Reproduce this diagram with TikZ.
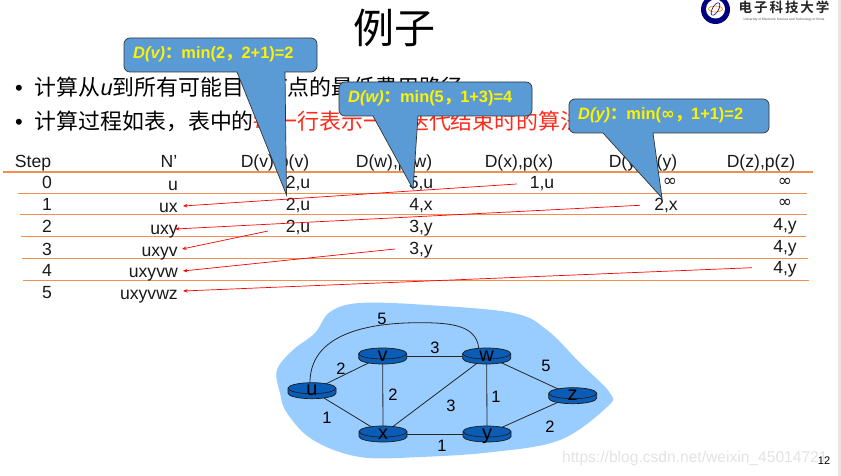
\documentclass[tikz,border=0pt]{standalone}
\usepackage{fontspec}
\setmainfont{Liberation Sans}
\newfontfamily\cjk{Noto Sans CJK SC}
\newfontfamily\cjkb{Noto Sans CJK SC Bold}
\newfontfamily\djv{DejaVu Sans}
\usetikzlibrary{shapes.geometric,arrows.meta}
\definecolor{rule}{HTML}{ED7D31}
\definecolor{boxblue}{HTML}{5B9BD5}
\definecolor{cloudblue}{HTML}{99CCFF}
\definecolor{routerblue}{HTML}{0A5CB4}
\definecolor{hot}{HTML}{FF2A1A}
\tikzset{
  cell/.style={font=\fontsize{17.6}{18}\selectfont,inner sep=0pt,text=black!90,text height=13pt,text depth=3pt,yshift=-1pt},
  infcell/.style={font=\djv\fontsize{17}{17}\selectfont,inner sep=0pt,text=black!90},
  rowrule/.style={draw=rule,line width=1pt,opacity=.85},
  move/.style={draw=red,line width=.7pt,-{Stealth[length=4.5pt,width=3.5pt]}},
  callout/.style={fill=boxblue,draw=black!80,line width=.7pt},
  calltext/.style={font=\bfseries\fontsize{16.4}{16}\selectfont,text=yellow,inner sep=0pt,anchor=west},
  router/.style={ellipse,minimum width=48pt,minimum height=16pt,inner sep=0pt},
  routerlabel/.style={font=\fontsize{20}{20}\selectfont,inner sep=0pt,text height=14pt,text depth=4pt},
  link/.style={draw=black!85,line width=.8pt},
  weight/.style={font=\fontsize{16.5}{16}\selectfont,inner sep=0pt},
  bullet/.style={font=\fontsize{21.9}{22}\selectfont,inner sep=0pt,anchor=west}
}
\newcommand{\callshape}[8]{% x1 y1 x2 y2 baseL baseR tipx tipy
  \path[callout] (#1+6,#2) [rounded corners=6pt] -- (#3,#2) -- (#3,#4) [sharp corners] -- (#6,#4) -- (#7,#8) -- (#5,#4) [rounded corners=6pt] -- (#1,#4) -- (#1,#2) [sharp corners] -- cycle;}
\newcommand{\routerbody}[2]{% x y
  \path[fill=routerblue,draw=black!90,line width=.7pt] (#1-24,#2-2.5) -- (#1-24,#2+2.5) arc[start angle=180,end angle=360,x radius=24pt,y radius=5.5pt] -- (#1+24,#2-2.5) arc[start angle=0,end angle=180,x radius=24pt,y radius=5.5pt] -- cycle;
  \path[draw=black!90,line width=.6pt] (#1-24,#2-2.5) arc[start angle=180,end angle=360,x radius=24pt,y radius=5.5pt];}
\begin{document}
\begin{tikzpicture}[x=1pt,y=-1pt]
\useasboundingbox (0,0) rectangle (841,476);
\fill[white] (0,0) rectangle (841,476);
\fill[black!10] (838,0) rectangle (841,476);

% title
\node[inner sep=0pt,font=\cjk\fontsize{41}{41}\selectfont] (title) at (394,28) {例子};

% logo
\fill[blue!50!black] (715.5,9.5) circle[radius=14.5];
\fill[white] (715.5,9) circle[radius=9.5];
\draw[orange,line width=.6pt] (715.5,9) ellipse[x radius=7,y radius=3];
\draw[blue!60!black,line width=.6pt,rotate around={60:(715.5,9)}] (715.5,9) ellipse[x radius=7,y radius=3];
\node[inner sep=0pt,font=\cjkb\fontsize{13.5}{14}\selectfont,text=black!85] (logoname) at (784,7.5) {电\hspace{2pt}子\hspace{2pt}科\hspace{2pt}技\hspace{2pt}大\hspace{2pt}学};
\node[inner sep=0pt,font=\fontsize{3.2}{4}\selectfont,text=black!70] (logosub) at (784,19.5) {University of Electronic Science and Technology of China};

% bullets
\node[bullet] (b1) at (15,87) {•\hspace{12pt}{\cjk 计算从}\textit{u}{\cjk 到所有可能目的节点的最低费用路径}};
\node[bullet] (b2) at (15,121) {•\hspace{12pt}{\cjk 计算过程如表，表中的}{\cjk\color{hot}每一行表示一次迭代结束时的算法状态}};

% table rules
\draw[rowrule,line width=1.5pt] (3,172) -- (813,172);
\draw[rowrule] (18,193) -- (807,193);
\draw[rowrule] (20,214.5) -- (807,214.5);
\draw[rowrule] (21,236.5) -- (806,236.5);
\draw[rowrule] (22,258.5) -- (808,258.5);
\draw[rowrule] (23,280.7) -- (809,280.7);

% table header
\node[cell] (hs) at (33,161.5) {Step};
\node[cell] (hn) at (169,161.5) {N'};
\node[cell] (hv) at (275,161.5) {D(v),p(v)};
\node[cell] (hw) at (394,161.5) {D(w),p(w)};
\node[cell] (hx) at (519,161.5) {D(x),p(x)};
\node[cell] (hy) at (643,161.5) {D(y),p(y)};
\node[cell] (hz) at (761,161.5) {D(z),p(z)};

% step column
\node[cell] (s0) at (47,183) {0};
\node[cell] (s1) at (47,205) {1};
\node[cell] (s2) at (47,226) {2};
\node[cell] (s3) at (47,249) {3};
\node[cell] (s4) at (47,270) {4};
\node[cell] (s5) at (47,292) {5};

% N' column
\node[cell,anchor=east] (n0) at (178,184) {u};
\node[cell,anchor=east] (n1) at (178,206) {ux};
\node[cell,anchor=east] (n2) at (178,228) {uxy};
\node[cell,anchor=east] (n3) at (178,250) {uxyv};
\node[cell,anchor=east] (n4) at (178,271) {uxyvw};
\node[cell,anchor=east] (n5) at (178,293) {uxyvwz};

% values
\node[cell] (v0) at (298,183) {2,u};
\node[cell] (v1) at (298,205) {2,u};
\node[cell] (v2) at (298,226) {2,u};
\node[cell] (w0) at (421,183) {5,u};
\node[cell] (w1) at (421,205) {4,x};
\node[cell] (w2) at (421,226) {3,y};
\node[cell] (w3) at (421,248) {3,y};
\node[cell] (x0) at (542,183) {1,u};
\node[infcell] (y0) at (670,182) {∞};
\node[cell] (y1) at (666,205) {2,x};
\node[infcell] (z0) at (785,182) {∞};
\node[infcell] (z1) at (785,203) {∞};
\node[cell] (z2) at (785,224) {4,y};
\node[cell] (z3) at (785,246) {4,y};
\node[cell] (z4) at (785,267) {4,y};

% moves
\coordinate (m1a) at (516.7,184); \coordinate (m1b) at (183,206);
\coordinate (m2a) at (640,205.3); \coordinate (m2b) at (175,229);
\coordinate (m3a) at (268,231);   \coordinate (m3b) at (182,249);
\coordinate (m4a) at (395,249);   \coordinate (m4b) at (183,271);
\coordinate (m5a) at (752,267.7); \coordinate (m5b) at (183,291);
\draw[move] (m1a) -- (m1b);
\draw[move] (m2a) -- (m2b);
\draw[move] (m3a) -- (m3b);
\draw[move] (m4a) -- (m4b);
\draw[move] (m5a) -- (m5b);

% callouts
\callshape{124}{38}{317}{72}{237}{285}{286.5}{195}
\node[calltext] (cv) at (133,54) {\textit{D(v)}{\cjkb ：}min(2{\cjkb ，}2+1)=2};
\callshape{339}{82}{532}{116}{373}{418}{413}{189}
\node[calltext] (cw) at (348,98) {\textit{D(w)}{\cjkb ：}min(5{\cjkb ，}1+3)=4};
\callshape{569}{99}{769}{133}{603}{653}{662}{198}
\node[calltext] (cy) at (578,115) {\textit{D(y)}{\cjkb ：}min({\djv\bfseries ∞}{\cjkb ，}1+1)=2};

% cloud
\fill[cloudblue] plot[smooth cycle,tension=.6] coordinates {
 (277,370) (293,350) (315,333) (330,312) (360,303) (427,305) (513,313)
 (547,330) (580,363) (610,393) (607,407) (560,440) (493,452) (420,457)
 (360,457) (313,440) (287,413) (280,393)};

% network
\node[router] (u) at (312,390.7) {};
\node[router] (v) at (382.7,356) {};
\node[router] (w) at (486.7,356) {};
\node[router] (x) at (383,434) {};
\node[router] (y) at (487,434) {};
\node[router] (z) at (572.7,395.7) {};
\draw[link] (u) -- (v);
\draw[link] (u) -- (x);
\draw[link] (v) -- (x);
\draw[link] (v) -- (w);
\draw[link] (x) -- (w);
\draw[link] (x) -- (y);
\draw[link] (w) -- (y);
\draw[link] (w) -- (z);
\draw[link] (y) -- (z);
\draw[link] ([xshift=-2pt]u.north) .. controls (310,345) and (345,322.7) .. (420,322.7) .. controls (450,322.7) and (476,325) .. ([xshift=-8pt]w.north);
\routerbody{312}{390.7}
\routerbody{382.7}{356}
\routerbody{486.7}{356}
\routerbody{383}{434}
\routerbody{487}{434}
\routerbody{572.7}{395.7}
\node[routerlabel] (lu) at (u) {u};
\node[routerlabel] (lv) at (v) {v};
\node[routerlabel] (lw) at (w) {w};
\node[routerlabel] (lx) at (x) {x};
\node[routerlabel] (ly) at (y) {y};
\node[routerlabel] (lz) at (z) {z};
\node[weight] (e1) at (382,319) {5};
\node[weight] (e2) at (341,369) {2};
\node[weight] (e3) at (435,348) {3};
\node[weight] (e4) at (393,395) {2};
\node[weight] (e5) at (451,406) {3};
\node[weight] (e6) at (496,397) {1};
\node[weight] (e7) at (546,366) {5};
\node[weight] (e8) at (550,427) {2};
\node[weight] (e9) at (327,418) {1};
\node[weight] (e10) at (442,446) {1};

% watermark and page number
\node[inner sep=0pt,anchor=west,font=\fontsize{15.6}{16}\selectfont,text=black!11] (mark) at (562,458) {https://blog.csdn.net/weixin\_45014721};
\node[inner sep=0pt,font=\fontsize{11}{11}\selectfont] (page) at (824,461) {12};
\end{tikzpicture}
\end{document}
